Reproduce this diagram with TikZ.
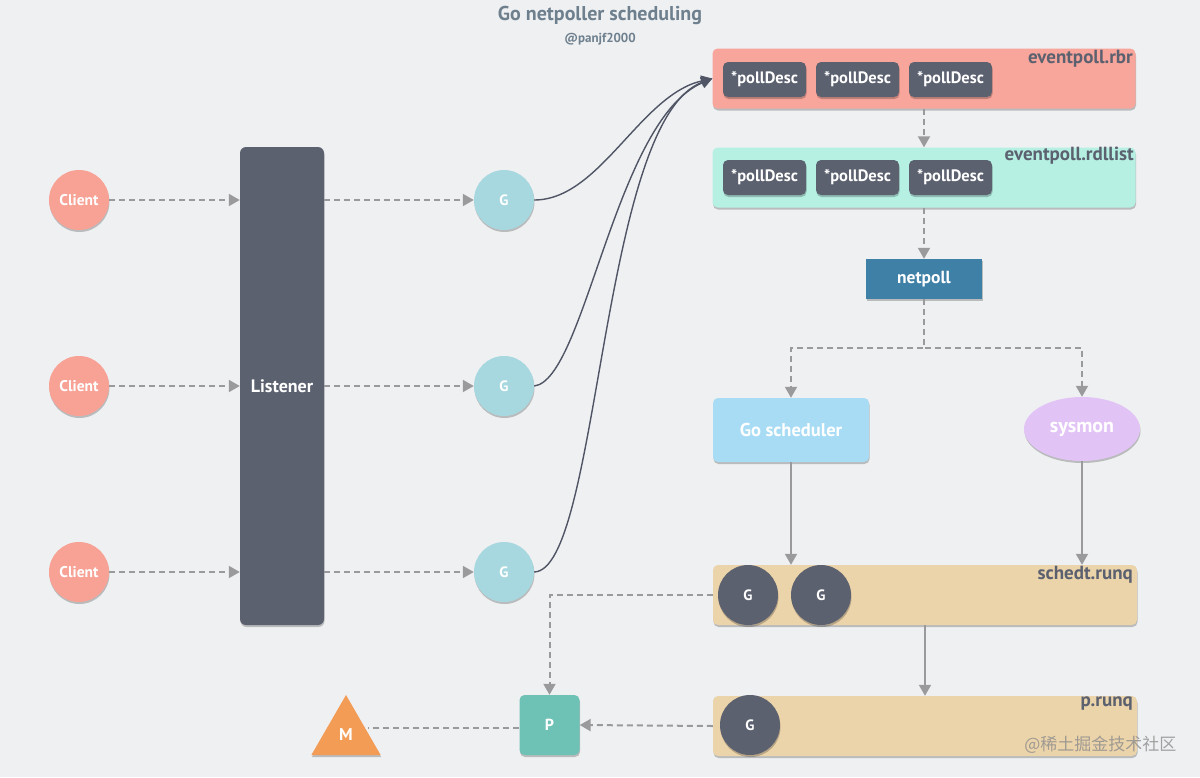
\documentclass[tikz,border=0pt]{standalone}
\usepackage{fontspec}
\setmainfont{PT Sans}
\newfontfamily\cjkfont{Noto Sans CJK SC}
\usetikzlibrary{arrows.meta,shapes.geometric,shadows}
\definecolor{bgc}{HTML}{EFF0F2}
\definecolor{clientc}{HTML}{F8A195}
\definecolor{darkc}{HTML}{5C6170}
\definecolor{glight}{HTML}{A8D8DF}
\definecolor{rbrc}{HTML}{F8A69B}
\definecolor{rdlc}{HTML}{B6F0E3}
\definecolor{netpc}{HTML}{3F80A6}
\definecolor{goschc}{HTML}{A8DCF5}
\definecolor{sysc}{HTML}{E2C3F6}
\definecolor{runqc}{HTML}{EBD3AA}
\definecolor{pc}{HTML}{6EC1B5}
\definecolor{mc}{HTML}{F29C55}
\definecolor{titlec}{HTML}{6E808E}
\definecolor{arrc}{HTML}{9A9A9C}
\definecolor{curvec}{HTML}{505565}
\tikzset{
  shad/.style={drop shadow={shadow xshift=0.5pt,shadow yshift=-2pt,opacity=0.22,fill=black}},
  wtxt/.style={text=white,font=\bfseries\fontsize{15}{18}\selectfont},
  fs/.style={font=\bfseries\fontsize{#1}{#1}\selectfont},
  circ/.style={circle,minimum size=60pt,inner sep=0pt,shad,wtxt},
  clientnode/.style={circ,fill=clientc,fs=15.5},
  glnode/.style={circ,fill=glight},
  gdnode/.style={circ,fill=darkc},
  pdnode/.style={rectangle,rounded corners=5pt,fill=darkc,minimum width=83pt,minimum height=35pt,inner sep=0pt,shad,wtxt,fs=16.5},
  queue/.style={rectangle,rounded corners=5pt,minimum width=423pt,minimum height=60pt,inner sep=0pt,shad},
  qlabel/.style={anchor=north east,inner sep=1pt,text=darkc,fs=19},
  dasharrow/.style={draw=arrc,line width=2pt,dash pattern=on 6pt off 4pt,-{Triangle[width=12pt,length=11pt]}},
  dashline/.style={draw=arrc,line width=2pt,dash pattern=on 6pt off 4pt},
  solidarrow/.style={draw=arrc,line width=2pt,-{Triangle[width=12pt,length=11pt]}},
  curvearrow/.style={draw=curvec,line width=1.4pt,-{Triangle[width=11pt,length=11pt]}},
}
\begin{document}
\begin{tikzpicture}[x=1pt,y=-1pt]
\fill[bgc] (0,0) rectangle (1200,777);
\useasboundingbox (0,0) rectangle (1200,777);

\node[text=titlec,fs=20] (title) at (600,15) {Go netpoller scheduling};
\node[text=titlec,fs=13] (author) at (600,39) {@panjf2000};

% clients
\node[clientnode] (c1) at (79,200) {Client};
\node[clientnode] (c2) at (79,386) {Client};
\node[clientnode] (c3) at (79,572) {Client};

% listener
\node[rectangle,rounded corners=6pt,fill=darkc,minimum width=84pt,minimum height=478pt,inner sep=0pt,shad,wtxt,fs=18] (listener) at (282,386) {Listener};

% light G
\node[glnode] (g1) at (504,200) {G};
\node[glnode] (g2) at (504,386) {G};
\node[glnode] (g3) at (504,572) {G};

% eventpoll.rbr
\node[queue,fill=rbrc] (rbr) at (924,78.5) {};
\node[qlabel] (rbrl) at (1134,49) {eventpoll.rbr};
\node[pdnode] (pa1) at (764.5,79.5) {*pollDesc};
\node[pdnode] (pa2) at (857.5,79.5) {*pollDesc};
\node[pdnode] (pa3) at (950.5,79.5) {*pollDesc};

% eventpoll.rdllist
\node[queue,fill=rdlc] (rdl) at (924,177.5) {};
\node[qlabel] (rdll) at (1135,146) {eventpoll.rdllist};
\node[pdnode] (pb1) at (764.5,177.5) {*pollDesc};
\node[pdnode] (pb2) at (857.5,177.5) {*pollDesc};
\node[pdnode] (pb3) at (950.5,177.5) {*pollDesc};

% netpoll
\node[rectangle,fill=netpc,minimum width=116pt,minimum height=40pt,inner sep=0pt,shad,wtxt,fs=17.5] (netpoll) at (924,279) {netpoll};

% go scheduler, sysmon
\node[rectangle,rounded corners=5pt,fill=goschc,minimum width=156pt,minimum height=64pt,inner sep=0pt,shad,wtxt,fs=18.5] (gosched) at (791,430) {Go scheduler};
\node[ellipse,fill=sysc,minimum width=116pt,minimum height=64pt,inner sep=0pt,shad,wtxt,fs=20] (sysmon) at (1082,429) {sysmon};

% schedt.runq
\node[queue,fill=runqc,minimum width=424pt] (schedt) at (925,595) {};
\node[qlabel] (schedtl) at (1134,565) {schedt.runq};
\node[gdnode] (sg1) at (748,595) {G};
\node[gdnode] (sg2) at (821,595) {G};

% p.runq
\node[queue,fill=runqc,minimum width=424pt] (prunq) at (925,726) {};
\node[qlabel] (prunql) at (1134,696) {p.runq};
\node[gdnode] (pg1) at (750,725) {G};

% P and M
\node[rectangle,rounded corners=5pt,fill=pc,minimum width=60pt,minimum height=60pt,inner sep=0pt,shad,wtxt,fs=16] (P) at (549.5,725) {P};
\node[regular polygon,regular polygon sides=3,fill=mc,minimum size=80pt,inner sep=0pt,shad,wtxt,fs=17] (M) at (346,735) {M};
\coordinate (medge) at (368,728);

% watermark
\node[anchor=east,text=black!45,opacity=0.8,font=\cjkfont\fontsize{17}{20}\selectfont] (wm) at (1180,745) {@稀土掘金技术社区};

% connectors
\foreach \c/\g in {c1/g1,c2/g2,c3/g3}{
  \draw[dasharrow] (\c) -- (listener.west |- \c);
  \draw[dasharrow] (listener.east |- \g) -- (\g);
}
\draw[curvearrow] (g1.east) .. controls (600,200) and (640,95) .. (rbr.west);
\draw[curvearrow] (g2.east) .. controls (585,380) and (615,120) .. (rbr.west);
\draw[curvearrow] (g3.east) .. controls (600,570) and (600,120) .. (rbr.west);

\draw[dasharrow] (rbr.south) -- (rdl.north);
\draw[dasharrow] (rdl.south) -- (netpoll.north);
\draw[dasharrow] (netpoll.south) -- ++(0,49) -| (gosched.north);
\draw[dasharrow] (netpoll.south) -- ++(0,49) -| (sysmon.north);
\draw[solidarrow] (gosched.south) -- (gosched.south |- schedt.north);
\draw[solidarrow] (sysmon.south) -- (sysmon.south |- schedt.north);
\draw[solidarrow] (schedt.south) -- (prunq.north);
\draw[dasharrow] (schedt.west) -| (P.north);
\draw[dasharrow] (prunq.west) -- (P.east);
\draw[dashline] (P.west |- medge) -- (medge);
\end{tikzpicture}
\end{document}
